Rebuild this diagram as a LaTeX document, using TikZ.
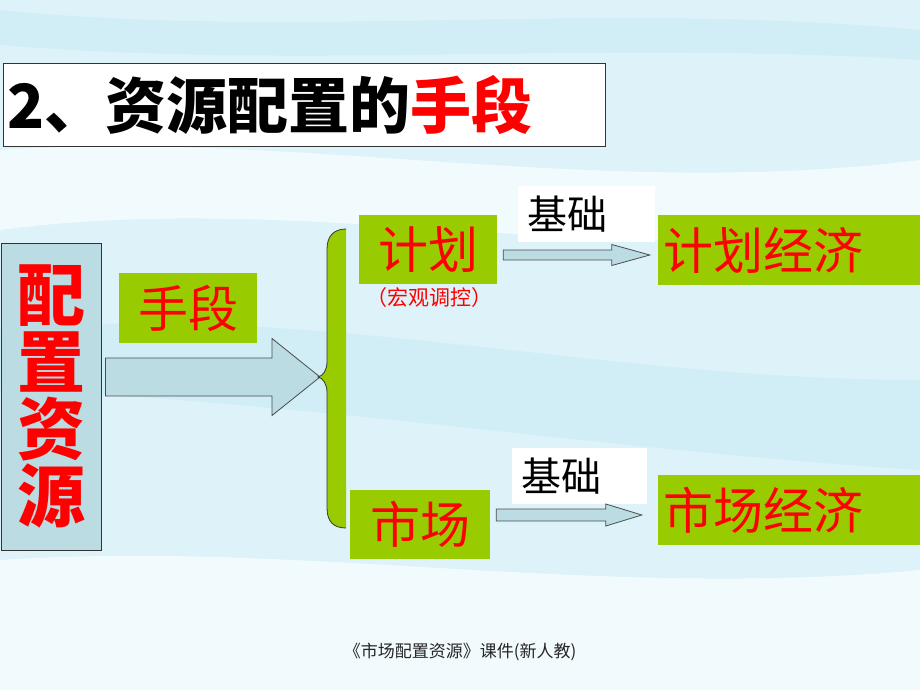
\documentclass[tikz,border=0pt]{standalone}
\usepackage{fontspec}
\setmainfont{Liberation Sans}
\newfontfamily\cjk{Noto Sans CJK SC}
\usepackage{tikz}
\usetikzlibrary{calc}
\definecolor{SlideBg}{RGB}{222,243,249}
\definecolor{SlideStreak}{RGB}{204,236,246}
\definecolor{SlideGreen}{RGB}{153,204,0}
\definecolor{SlideBlue}{RGB}{186,220,226}
\definecolor{SlideRed}{RGB}{255,0,0}

% block arrow: #1 start, #2 tip, #3 half shaft, #4 half head, #5 head length
\newcommand\blockarrow[5]{%
  \draw[arw] let \p1=(#1), \p2=(#2) in
    (\x1,\y2-#3) -- (\x2-#5,\y2-#3) -- (\x2-#5,\y2-#4) -- (\x2,\y2)
    -- (\x2-#5,\y2+#4) -- (\x2-#5,\y2+#3) -- (\x1,\y2+#3) -- cycle;}

\begin{document}
\begin{tikzpicture}[x=1pt,y=-1pt,
  gbox/.style n args={2}{fill=SlideGreen,minimum width=#1,minimum height=#2,inner sep=0pt,text=SlideRed,font=\cjk\fontsize{50}{50}\selectfont},
  wbox/.style={fill=white,anchor=west,minimum height=56pt,text width=119pt,inner xsep=9pt,inner ysep=0pt,align=left,font=\cjk\fontsize{40}{40}\selectfont},
  arw/.style={fill=SlideBlue,draw=black!70,line width=0.8pt}]
\useasboundingbox (0,0) rectangle (920,690);
\fill[SlideBg] (0,0) rectangle (920,690);
% background streaks
\fill[SlideStreak,opacity=0.7] (0,10) .. controls (300,40) and (600,0) .. (920,30) -- (920,60) .. controls (600,40) and (300,70) .. (0,45) -- cycle;
\fill[white,opacity=0.6] (0,150) .. controls (300,130) and (600,200) .. (920,160) -- (920,230) .. controls (600,270) and (300,190) .. (0,230) -- cycle;
\fill[SlideStreak,opacity=0.7] (0,330) .. controls (300,300) and (600,380) .. (920,380) -- (920,470) .. controls (600,450) and (300,400) .. (0,390) -- cycle;
\fill[white,opacity=0.6] (0,560) .. controls (300,540) and (600,600) .. (920,570) -- (920,690) -- (0,690) -- cycle;

% title
\node[draw=black!80,fill=white,line width=0.8pt,minimum width=602pt,minimum height=83pt,inner sep=0pt] (title) at (304,104.5) {};
\node[anchor=west,inner sep=0pt,font=\cjk\bfseries\fontsize{61}{61}\selectfont] (titletext) at ($(title.west)+(5pt,0)$) {2、资源配置的\textcolor{SlideRed}{手段}};

% left column
\node[draw=black!80,fill=SlideBlue,line width=0.8pt,minimum width=100pt,minimum height=307pt,inner sep=0pt,align=center,text=SlideRed,font=\cjk\bfseries\fontsize{68}{67}\selectfont] (res) at (51,396.5) {配\\置\\资\\源};
\node[gbox={138pt}{70pt}] (means) at (188,308) {手段};
\coordinate (tip) at (318,377);
\blockarrow{$(res.east)+(4pt,0)$}{$(tip)+(2pt,0)$}{19pt}{38.5pt}{48pt}

% brace
\fill[SlideGreen] (346,229) -- (346,528) .. controls (334,528) and (327,522) .. (327,508) -- (327,392) .. controls (327,384) and (323,378) .. (tip) .. controls (323,376) and (327,370) .. (327,362) -- (327,249) .. controls (327,236) and (334,229) .. (346,229) -- cycle;
\draw[black!80,line width=0.8pt] (346,528) .. controls (334,528) and (327,522) .. (327,508) -- (327,392) .. controls (327,384) and (323,378) .. (tip) .. controls (323,376) and (327,370) .. (327,362) -- (327,249) .. controls (327,236) and (334,229) .. (346,229);

% two means
\node[gbox={138pt}{69pt}] (plan) at (428,249.5) {计划};
\node[text=SlideRed,inner sep=0pt,font=\cjk\fontsize{21}{21}\selectfont] (planmacro) at (429,298) {（宏观调控）};
\node[gbox={140pt}{69pt}] (market) at (420,524.5) {市场};

% economies
\node[gbox={262pt}{70pt},text width=252pt,align=left] (planeco) at (789,250) {计划经济};
\node[gbox={262pt}{70pt},text width=252pt,align=left] (marketeco) at (789,510) {市场经济};

% basis labels and arrows
\node[wbox] (base1) at (518,214) {基础};
\node[wbox,text width=117pt] (base2) at (512,476) {基础};
\blockarrow{$(plan.east)+(6pt,0)$}{$(planeco.west)+(-8pt,-5pt)$}{5pt}{10.5pt}{38pt}
\blockarrow{$(market.east)+(6pt,0)$}{$(marketeco.west)+(-16pt,-5pt)$}{6pt}{11pt}{36pt}

% footer
\node[inner sep=0pt,text=black!85,font=\cjk\fontsize{17}{17}\selectfont] (footer) at (460,652) {《市场配置资源》课件(新人教)};
\end{tikzpicture}
\end{document}
